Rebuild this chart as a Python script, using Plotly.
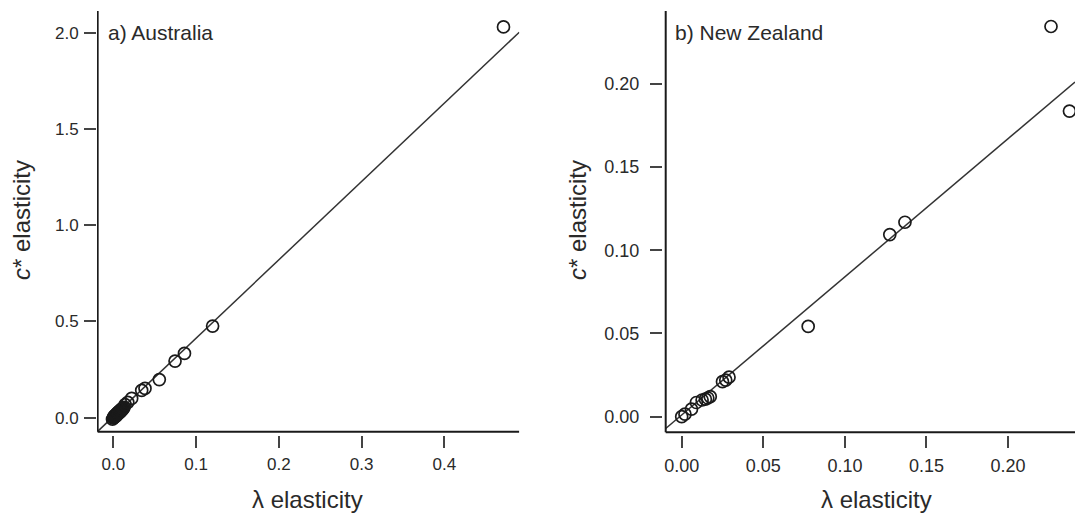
import plotly.graph_objects as go

# ---------------- data ----------------
aus_lambda = [-0.001, 0.000, 0.0005, 0.001, 0.0015, 0.002, 0.0025, 0.003, 0.0035, 0.004,
              0.0045, 0.005, 0.0055, 0.006, 0.0065, 0.007, 0.0075, 0.008, 0.0085, 0.009,
              0.0095, 0.010, 0.0105, 0.011, 0.0115, 0.012, 0.013, 0.0143, 0.0175, 0.0222,
              0.0343, 0.0383, 0.0556, 0.0746, 0.0860, 0.120, 0.4715]
aus_cstar = [-0.008, -0.002, 0.004, 0.001, 0.010, 0.004, 0.014, 0.008, 0.018, 0.012,
             0.022, 0.017, 0.026, 0.021, 0.030, 0.025, 0.034, 0.029, 0.038, 0.033,
             0.042, 0.038, 0.046, 0.042, 0.050, 0.047, 0.054, 0.068, 0.080, 0.100,
             0.142, 0.152, 0.198, 0.294, 0.334, 0.476, 2.030]
aus_fit = (0.006, 4.07)          # intercept, slope

nz_lambda = [0.000, 0.002, 0.006, 0.009, 0.0125, 0.0145, 0.016, 0.0175, 0.025, 0.027,
             0.029, 0.0775, 0.1275, 0.1368, 0.2263, 0.2376]
nz_cstar = [0.000, 0.0015, 0.0045, 0.0085, 0.010, 0.0105, 0.0112, 0.012, 0.021, 0.022,
            0.0237, 0.0542, 0.1094, 0.1168, 0.2344, 0.1836]
nz_fit = (0.001, 0.83)

aus_xticks = [0.0, 0.1, 0.2, 0.3, 0.4]
aus_yticks = [0.0, 0.5, 1.0, 1.5, 2.0]
nz_xticks = [0.00, 0.05, 0.10, 0.15, 0.20]
nz_yticks = [0.00, 0.05, 0.10, 0.15, 0.20]

panel_labels = ["a) Australia", "b) New Zealand"]
x_title = "λ elasticity"
y_title = "<i>c</i>* elasticity"

# ---------------- layout geometry ----------------
W, H = 1075, 514
FONT = "Liberation Sans, Arial, Helvetica, sans-serif"
TXT = "#2a2a2a"

# plot-area ranges (slightly beyond drawn axis lines so ticks sit detached)
aus_xr = [-0.0197, 0.4906]
aus_yr = [-0.0899, 2.1127]
aus_axis_x = -0.0189   # where the drawn y-axis line sits
aus_axis_y = -0.0727   # where the drawn x-axis line sits

nz_xr = [-0.01146, 0.2410]
nz_yr = [-0.01102, 0.2437]
nz_axis_x = -0.0098
nz_axis_y = -0.0094

ydom = [(H - 435) / H, (H - 11) / H]
x1dom = [97 / W, 519.3 / W]
x2dom = [663 / W, 1.0]

fig = go.Figure()

marker = dict(symbol="circle-open", size=12, color="#1a1a1a",
              line=dict(width=1.7, color="#1a1a1a"))

def fit_line(xr, fit, axis_x):
    b0, b1 = fit
    xs = [axis_x, xr[1]]
    return xs, [b0 + b1 * v for v in xs]

# Australia
lx, ly = fit_line(aus_xr, aus_fit, aus_axis_x)
fig.add_trace(go.Scatter(x=lx, y=ly, mode="lines", line=dict(color="#333333", width=1.5),
                         xaxis="x", yaxis="y", showlegend=False, hoverinfo="skip"))
fig.add_trace(go.Scatter(x=aus_lambda, y=aus_cstar, mode="markers", marker=marker,
                         xaxis="x", yaxis="y", showlegend=False))
# New Zealand
lx2, ly2 = fit_line(nz_xr, nz_fit, nz_axis_x)
fig.add_trace(go.Scatter(x=lx2, y=ly2, mode="lines", line=dict(color="#333333", width=1.5),
                         xaxis="x2", yaxis="y2", showlegend=False, hoverinfo="skip"))
fig.add_trace(go.Scatter(x=nz_lambda, y=nz_cstar, mode="markers", marker=marker,
                         xaxis="x2", yaxis="y2", showlegend=False))

def common(size, standoff=2):
    return dict(showgrid=False, zeroline=False, showline=False, ticks="outside",
                ticklen=12, tickwidth=1.5, tickcolor="#444444",
                ticklabelstandoff=standoff,
                tickfont=dict(family=FONT, size=size, color=TXT))

fig.update_layout(
    width=W, height=H,
    margin=dict(l=0, r=0, t=0, b=0),
    paper_bgcolor="white", plot_bgcolor="white",
    xaxis=dict(domain=x1dom, range=aus_xr, tickvals=aus_xticks, tickformat=".1f",
               anchor="y", **common(17)),
    yaxis=dict(domain=ydom, range=aus_yr, tickvals=aus_yticks, tickformat=".1f",
               anchor="x", **common(17)),
    xaxis2=dict(domain=x2dom, range=nz_xr, tickvals=nz_xticks, tickformat=".2f",
                anchor="y2", **common(18)),
    yaxis2=dict(domain=ydom, range=nz_yr, tickvals=nz_yticks, tickformat=".2f",
                anchor="x2", **common(18, 7)),
)

# axis lines drawn as shapes (detached from ticks)
axc = dict(color="#1a1a1a", width=2)
fig.add_shape(type="line", xref="x", yref="y", x0=aus_axis_x, x1=aus_xr[1],
              y0=aus_axis_y, y1=aus_axis_y, line=axc)
fig.add_shape(type="line", xref="x", yref="y", x0=aus_axis_x, x1=aus_axis_x,
              y0=aus_axis_y, y1=aus_yr[1], line=axc)
fig.add_shape(type="line", xref="x2", yref="y2", x0=nz_axis_x, x1=nz_xr[1],
              y0=nz_axis_y, y1=nz_axis_y, line=axc)
fig.add_shape(type="line", xref="x2", yref="y2", x0=nz_axis_x, x1=nz_axis_x,
              y0=nz_axis_y, y1=nz_yr[1], line=axc)

# panel labels
fig.add_annotation(text=panel_labels[0], xref="paper", yref="paper",
                   x=106 / W, y=(H - 32) / H, xanchor="left", yanchor="middle",
                   showarrow=False, font=dict(family=FONT, size=21, color=TXT))
fig.add_annotation(text=panel_labels[1], xref="paper", yref="paper",
                   x=673 / W, y=(H - 32) / H, xanchor="left", yanchor="middle",
                   showarrow=False, font=dict(family=FONT, size=21, color=TXT))

# axis titles
tfont = dict(family=FONT, size=24, color=TXT)
for xc in [307 / W, 876 / W]:
    fig.add_annotation(text=x_title, xref="paper", yref="paper", x=xc, y=(H - 499) / H,
                       xanchor="center", yanchor="middle", showarrow=False, font=tfont)
for xc in [21 / W, 577 / W]:
    fig.add_annotation(text=y_title, xref="paper", yref="paper", x=xc, y=(H - 220) / H,
                       xanchor="center", yanchor="middle", textangle=-90,
                       showarrow=False, font=tfont)

fig.write_html("out.html",
               config={"displayModeBar": False},
               post_script="document.body.style.margin='0';document.body.style.padding='0';"
                           "document.body.style.overflow='hidden';")
